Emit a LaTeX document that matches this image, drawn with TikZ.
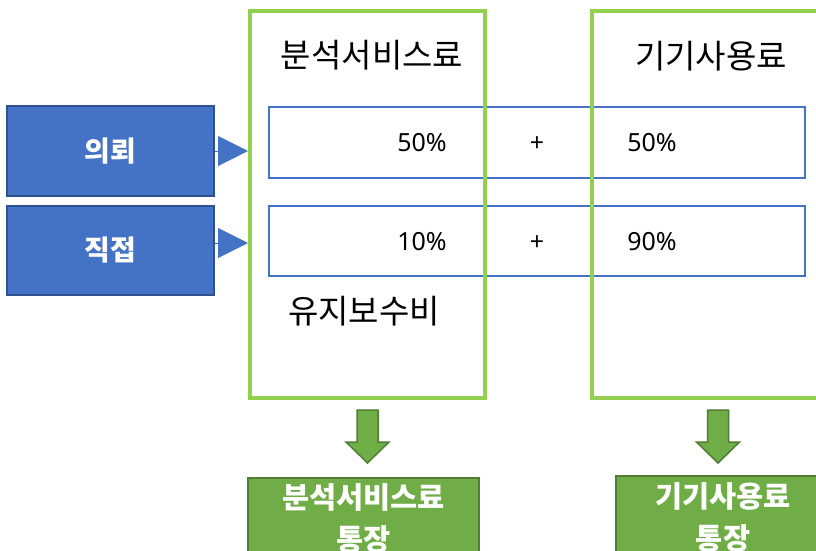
\documentclass[tikz,border=0pt]{standalone}
\usepackage{fontspec}
\setmainfont{Noto Sans CJK KR}
\newfontfamily\latinf{Noto Sans}
\usetikzlibrary{arrows.meta}
\definecolor{blueF}{HTML}{4472C4}
\definecolor{blueD}{HTML}{2F528F}
\definecolor{greenL}{HTML}{92D050}
\definecolor{greenF}{HTML}{70AD47}
\definecolor{greenD}{HTML}{507E32}
\begin{document}
\begin{tikzpicture}[x=1pt,y=-1pt,
  rowbox/.style={draw=blueF, line width=1.5pt, rectangle, inner sep=0pt},
  frame/.style={draw=greenL, line width=4pt, rectangle, inner sep=0pt},
  srcbox/.style={draw=blueD, fill=blueF, line width=1.5pt, rectangle, inner sep=0pt,
    minimum width=207pt, text=white, font=\fontsize{28}{32}\selectfont\bfseries},
  bankbox/.style={draw=greenD, fill=greenF, line width=1.5pt, rectangle, inner sep=0pt,
    text=white, align=center, font=\fontsize{29.5}{42}\selectfont\bfseries},
  head/.style={font=\fontsize{33}{38}\selectfont, text=black, inner sep=0pt},
  pct/.style={font=\latinf\fontsize{25}{30}\selectfont, text=black, inner sep=0pt},
  feed/.style={draw=blueF, line width=1pt, -{Triangle[length=30pt,width=30pt]}},
  downarrow/.pic={\path[fill=greenF, draw=greenD, line width=1.5pt]
    (-10.5,0) -- (10.5,0) -- (10.5,32) -- (21.5,32) -- (0,53) -- (-21.5,32) -- (-10.5,32) -- cycle;}
]
\useasboundingbox (0,0) rectangle (816,550);
\clip (0,0) rectangle (816,550);

% rows
\node[rowbox, minimum width=536pt, minimum height=71pt] (r1) at (537,142.5) {};
\node[rowbox, minimum width=536pt, minimum height=70pt] (r2) at (537,241) {};

% frames
\node[frame, minimum width=235pt, minimum height=387pt] (f1) at (367.5,204.5) {};
\node[frame, minimum width=250pt, minimum height=387pt] (f2) at (717,204.5) {};

% headings
\node[head] (h1) at (372,55) {분석서비스료};
\node[head] (h2) at (711,56) {기기사용료};
\node[head] (h3) at (364,311) {유지보수비};

% percentages
\node[pct] (a1) at (422,143) {50\%};
\node[pct] (p1) at (537,144) {+};
\node[pct] (b1) at (652,143) {50\%};
\node[pct] (a2) at (422,242) {10\%};
\node[pct] (p2) at (537,243) {+};
\node[pct] (b2) at (652,242) {90\%};

% source boxes
\node[srcbox, minimum height=90pt] (ask) at (110.5,151) {의뢰};
\node[srcbox, minimum height=89pt] (direct) at (110.5,250.5) {직접};

\draw[feed] (ask.east) -- (ask.east -| f1.west);
\coordinate (d0) at ([yshift=7.5pt]direct.east);
\draw[feed] (d0) -- (d0 -| f1.west);

% down arrows
\pic at (367.5,410) {downarrow};
\pic at (718,410) {downarrow};

% bank boxes
\node[bankbox, minimum width=231pt, minimum height=80pt] (bank1) at (363.5,518) {분석서비스료\\통장};
\node[bankbox, minimum width=214pt, minimum height=82pt] (bank2) at (723,517) {기기사용료\\통장};
\end{tikzpicture}
\end{document}
